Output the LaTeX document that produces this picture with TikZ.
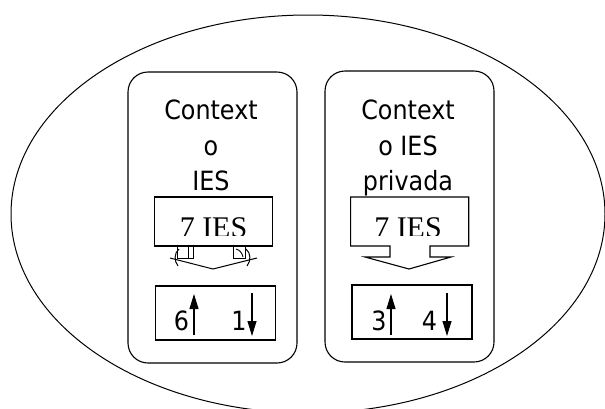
\documentclass[tikz,border=0pt]{standalone}
\usepackage{fontspec}
\newfontfamily\tsans[FakeStretch=0.9]{DejaVu Sans}
\newfontfamily\tserif{Liberation Serif}
\usetikzlibrary{arrows.meta}
\tikzset{
  lbl/.style={font=\tsans\fontsize{26.5}{30}\selectfont, inner sep=0pt, anchor=base},
  ser/.style={font=\tserif\fontsize{30}{32}\selectfont, inner sep=0pt, anchor=base},
  panel/.style={draw, line width=1.1pt, rounded corners=20pt},
  plain/.style={draw, line width=1.1pt},
  updown/.style={line width=1.1pt, -{Triangle[length=15pt,width=9pt]}}
}
\begin{document}
\begin{tikzpicture}[x=1pt,y=-1pt]
\useasboundingbox (0,0) rectangle (605,408);
\begin{scope}
\clip (0,0) rectangle (605,408);
\draw[line width=1pt] (308,214) ellipse [x radius=297, y radius=199];
\end{scope}
% panels
\draw[panel] (128,72) rectangle (297,363);
\draw[panel] (325,71) rectangle (494,362);
% left titles
\node[lbl] (l1) at (211,119) {Context};
\node[lbl] (l2) at (211,155) {o};
\node[lbl] (l3) at (211,190) {IES};
% right titles
\node[lbl] (r1) at (408,119) {Context};
\node[lbl] (r2) at (408,155) {o IES};
\node[lbl] (r3) at (408,190) {privada};
% left callout (garbled)
\draw[plain] (154.5,197) rectangle (272.6,246);
\begin{scope}
\clip (154.5,197) rectangle (272.6,235);
\node[ser] (l7) at (213.5,237) {7 IES};
\end{scope}
\draw[line width=1pt] (177,246) rectangle (193,258);
\draw[line width=1pt] (188,246) -- (188,258);
\draw[line width=1pt] (233,246) rectangle (245,258);
\draw[line width=0.9pt] (236,249) .. controls (240,250) and (242,253) .. (243,257);
\draw[line width=1pt] (179,249) .. controls (174,253) and (174,261) .. (178,266);
\draw[line width=1pt] (246,249) .. controls (251,253) and (251,261) .. (247,266);
\draw[line width=1pt] (170,258) -- (213,269) -- (257,258);
% right callout
\draw[plain, line join=miter] (350.6,197) -- (468.7,197) -- (468.7,246) -- (430,246) -- (430,257)
  -- (451,257) -- (409,269) -- (365,257) -- (390,257) -- (390,246) -- (350.6,246) -- cycle;
\begin{scope}
\clip (350.6,197) rectangle (468.7,235);
\node[ser] (r7) at (408,237) {7 IES};
\end{scope}
% bottom boxes
\draw[plain] (155.5,286) rectangle (275.5,340) node[pos=0,inner sep=0pt] (bl) {};
\draw[plain] (352,285) rectangle (472,339);
\node[lbl] (n6) at (181.5,330) {6};
\node[lbl] (n1) at (239,330) {1};
\node[lbl] (n3) at (379,330) {3};
\node[lbl] (n4) at (429.5,330) {4};
\coordinate (u1a) at (194,335); \coordinate (u1b) at (194,294);
\coordinate (d1a) at (252,293); \coordinate (d1b) at (252,336);
\coordinate (u2a) at (391,335); \coordinate (u2b) at (391,294);
\coordinate (d2a) at (447,293); \coordinate (d2b) at (447,336);
\draw[updown] (u1a) -- (u1b);
\draw[updown] (d1a) -- (d1b);
\draw[updown] (u2a) -- (u2b);
\draw[updown] (d2a) -- (d2b);
\end{tikzpicture}
\end{document}
